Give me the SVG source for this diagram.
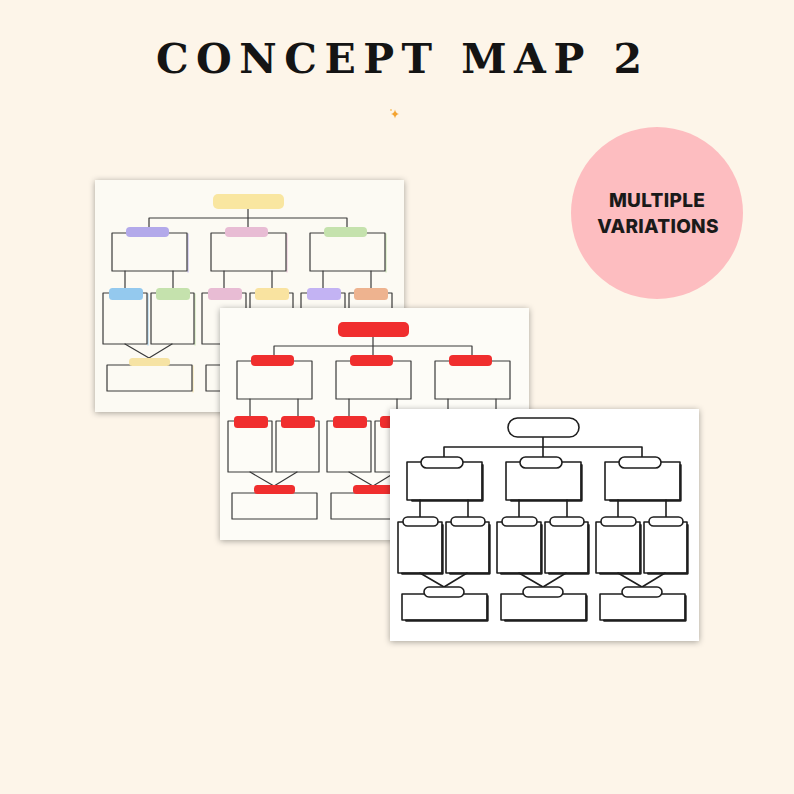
<svg xmlns="http://www.w3.org/2000/svg" xmlns:xlink="http://www.w3.org/1999/xlink" width="794" height="794" viewBox="0 0 794 794">
<style>
.title{font-family:"DejaVu Serif","Liberation Serif",serif;font-weight:700;font-size:41px;fill:#141414}
.badge{font-family:"Inter","Liberation Sans",sans-serif;font-weight:800;font-size:19px;fill:#1a1a1a;letter-spacing:0.3px}
.ln{fill:none;stroke-linecap:round;stroke-linejoin:round}
.ink1{stroke:#3a3a3a;stroke-width:1.2}
.ink3{stroke:#1e1e1e;stroke-width:1.6}
.heavy{fill:none;stroke:#1e1e1e;stroke-width:2.2;stroke-linecap:round;stroke-linejoin:round}
.pillw{fill:#ffffff;stroke:#1e1e1e;stroke-width:1.6}
.red{fill:#f02e2e}
</style>
<defs>
<filter id="shadow" x="-10%" y="-10%" width="120%" height="120%">
<feDropShadow dx="0" dy="1" stdDeviation="3" flood-color="#000" flood-opacity="0.35"/>
</filter>
<g id="frame">
<path d="M153 28V38M54 38H252M54 38V53M153 38V53M252 38V53"/>
<g id="grp">
<rect x="17" y="53" width="75" height="38"/>
<path d="M30 91V113M78 91V113"/>
<rect x="8" y="113" width="44" height="51"/>
<rect x="56" y="113" width="43" height="51"/>
<path d="M30 164L54 178L77 164"/>
<rect x="12" y="185" width="85" height="26"/>
</g>
<use xlink:href="#grp" x="99"/>
<use xlink:href="#grp" x="198"/>
</g>
<g id="edges">
<g id="eg">
<path d="M92.6 56V91.6H22"/>
<path d="M52.6 116V164.6H12"/>
<path d="M99.6 116V164.6H60"/>
<path d="M97.6 187V211.6H16"/>
</g>
<use xlink:href="#eg" x="99"/>
<use xlink:href="#eg" x="198"/>
</g>
<g id="pillsw">
<rect x="118" y="9" width="71" height="19" rx="9.5"/>
<g id="pgw">
<rect x="31" y="48" width="42" height="11" rx="5.5"/>
<rect x="13" y="108" width="35" height="9" rx="4.5"/>
<rect x="61" y="108" width="34" height="9" rx="4.5"/>
<rect x="34" y="178" width="40" height="10" rx="5"/>
</g>
<use xlink:href="#pgw" x="99"/>
<use xlink:href="#pgw" x="198"/>
</g>
<g id="pillsr">
<rect x="118" y="14" width="71" height="15" rx="5"/>
<g id="pgr">
<rect x="31" y="47" width="43" height="11" rx="4"/>
<rect x="14" y="108" width="34" height="12" rx="3.5"/>
<rect x="61" y="108" width="34" height="12" rx="3.5"/>
<rect x="34" y="177" width="41" height="9" rx="3.5"/>
</g>
<use xlink:href="#pgr" x="99"/>
<use xlink:href="#pgr" x="198"/>
</g>
</defs>

<rect width="794" height="794" fill="#fdf5e9"/>

<text class="title" x="156" y="73" textLength="486" lengthAdjust="spacing">CONCEPT MAP 2</text>

<g id="sparkle">
<path d="M395 109.5Q395.6 113.4 399 114Q395.6 114.6 395 118.5Q394.4 114.6 391 114Q394.4 113.4 395 109.5Z" fill="#f4a431"/>
<circle cx="391" cy="110" r="0.9" fill="#f7c26a"/>
</g>

<g id="badge">
<circle cx="657" cy="213" r="86" fill="#fdbdc0"/>
<text class="badge" x="657" y="207" text-anchor="middle">MULTIPLE</text>
<text class="badge" x="658" y="233" text-anchor="middle">VARIATIONS</text>
</g>

<g id="card1">
<rect x="95" y="180" width="309" height="232" fill="#fcfaf3" filter="url(#shadow)"/>
<g transform="translate(95 180)">
<g class="ln" stroke-width="1.4" opacity="0.7">
<path d="M93 54V92" stroke="#b3a9ea"/>
<path d="M192 54V92" stroke="#e8bcd4"/>
<path d="M291 54V92" stroke="#c5e2ad"/>
<path d="M53 114V165" stroke="#94c9ee"/>
<path d="M100 114V165" stroke="#c5e2ad"/>
<path d="M98 186V212" stroke="#f6e3a4"/>
</g>
<use xlink:href="#frame" class="ln ink1"/>
<rect x="118" y="14" width="71" height="15" rx="5" fill="#f9e6a0"/>
<rect x="31" y="47" width="43" height="10" rx="4" fill="#b3a9ea"/>
<rect x="130" y="47" width="43" height="10" rx="4" fill="#e8bcd4"/>
<rect x="229" y="47" width="43" height="10" rx="4" fill="#c5e2ad"/>
<rect x="14" y="108" width="34" height="12" rx="3.5" fill="#94c9ee"/>
<rect x="61" y="108" width="34" height="12" rx="3.5" fill="#c5e2ad"/>
<rect x="113" y="108" width="34" height="12" rx="3.5" fill="#e8bcd4"/>
<rect x="160" y="108" width="34" height="12" rx="3.5" fill="#f9e3a0"/>
<rect x="212" y="108" width="34" height="12" rx="3.5" fill="#c3b3f3"/>
<rect x="259" y="108" width="34" height="12" rx="3.5" fill="#eeb38f"/>
<rect x="34" y="178" width="41" height="8" rx="3.5" fill="#f6e3a4"/>
<rect x="133" y="178" width="41" height="8" rx="3.5" fill="#c5e2ad"/>
<rect x="232" y="178" width="41" height="8" rx="3.5" fill="#e8bcd4"/>
</g>
</g>

<g id="card2">
<rect x="220" y="308" width="309" height="232" fill="#fdfcf7" filter="url(#shadow)"/>
<g transform="translate(220 308)">
<use xlink:href="#frame" class="ln ink1"/>
<use xlink:href="#pillsr" class="red"/>
</g>
</g>

<g id="card3">
<rect x="390" y="409" width="309" height="232" fill="#ffffff" filter="url(#shadow)"/>
<g transform="translate(390 409)">
<use xlink:href="#frame" class="ln ink3"/>
<use xlink:href="#edges" class="heavy"/>
<use xlink:href="#pillsw" class="pillw"/>
</g>
</g>
</svg>
